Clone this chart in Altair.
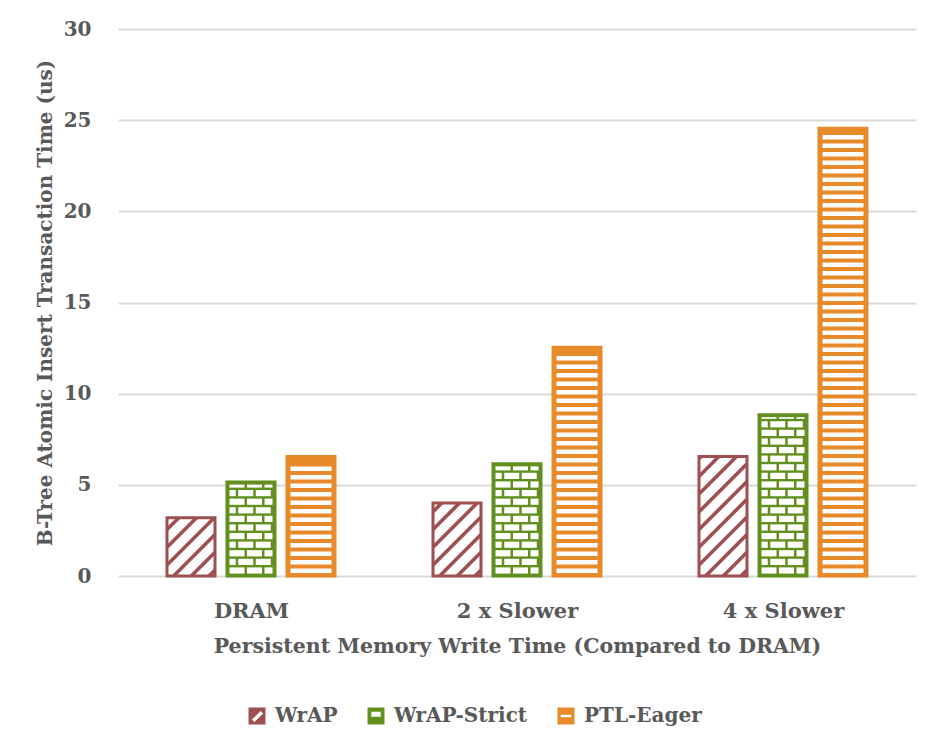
import json
import altair as alt
import pandas as pd

# ---------------- data ----------------
CATEGORIES = ["DRAM", "2 x Slower", "4 x Slower"]
SERIES = ["WrAP", "WrAP-Strict", "PTL-Eager"]
WRAP = [3.2, 4.0, 6.55]
WRAP_STRICT = [5.15, 6.15, 8.85]
PTL_EAGER = [6.55, 12.55, 24.55]
Y_TICKS = [0, 5, 10, 15, 20, 25, 30]

COLORS = ["#9E4F51", "#62901F", "#E8892A"]
FILLS = ["#FFFFFF", COLORS[1], COLORS[2]]
TEXT = "#595959"
GRID = "#D9D9D9"
FONT = "DejaVu Serif"

VALUES = dict(zip(SERIES, [WRAP, WRAP_STRICT, PTL_EAGER]))

# ---------------- geometry helpers (pixel styles -> data units) ----------------
W, H = 798, 547
X_DOMAIN = [-0.5, len(CATEGORIES) - 0.5]
Y_DOMAIN = [0, 30]
PX_X = W / (X_DOMAIN[1] - X_DOMAIN[0])
PX_Y = H / (Y_DOMAIN[1] - Y_DOMAIN[0])
BAR_PX = 48.0
STEP_PX = 60.0

bars, stripes, bricks, hatch = [], [], [], []
for ci, cat in enumerate(CATEGORIES):
    for si, s in enumerate(SERIES):
        v = VALUES[s][ci]
        center = ci + (si - 1) * STEP_PX / PX_X
        x0 = center - BAR_PX / 2 / PX_X
        x1 = center + BAR_PX / 2 / PX_X
        bars.append(dict(category=cat, series=s, value=v, x0=x0, x1=x1, xc=center))
        h = v * PX_Y
        if s == "PTL-Eager":
            pitch, th = 8.5, 4.4
            y = 3.0 + th / 2
            while y + th / 2 < h - 3.0:
                stripes.append(dict(series=s, x0=x0 + 3.5 / PX_X, x1=x1 - 3.5 / PX_X, y0=y / PX_Y))
                y += pitch
        elif s == "WrAP-Strict":
            inner_w = BAR_PX - 5.0
            top = h - 2.5
            pitch, mortar, bw = 8.6, 2.4, 15.0
            period = bw + 2.5
            r = 0
            while r * pitch + mortar < top - 1.0:
                ya = r * pitch + mortar
                yb = min((r + 1) * pitch, top)
                off = 0.0 if r % 2 == 0 else -period / 2
                bx = off
                while bx < inner_w:
                    a = max(bx, 0.0)
                    b = min(bx + bw, inner_w)
                    if b - a > 1.2:
                        bricks.append(dict(series=s,
                                           x0=x0 + (2.5 + a) / PX_X, x1=x0 + (2.5 + b) / PX_X,
                                           y0=ya / PX_Y, y1=yb / PX_Y))
                    bx += period
                r += 1
        else:
            pitch = 17.7
            c = -BAR_PX + 6.0
            while c < h:
                xa = max(0.0, -c)
                xb = min(BAR_PX, h - c)
                if xb - xa > 0.5:
                    hatch.append(dict(series=s,
                                      x0=x0 + xa / PX_X, x1=x0 + xb / PX_X,
                                      y0=(xa + c) / PX_Y, y1=(xb + c) / PX_Y))
                c += pitch

bars_df = pd.DataFrame(bars)
stripes_df = pd.DataFrame(stripes)
bricks_df = pd.DataFrame(bricks)
hatch_df = pd.DataFrame(hatch)

X_TITLE = "Persistent Memory Write Time (Compared to DRAM)"
Y_TITLE = "B-Tree Atomic Insert Transaction Time (us)"
label_expr = json.dumps(CATEGORIES) + "[datum.value]"
series_idx = "indexof(" + json.dumps(SERIES) + ", datum.series)"
fill_expr = json.dumps(FILLS) + "[" + series_idx + "]"
stroke_expr = json.dumps(COLORS) + "[" + series_idx + "]"


def X(field):
    return alt.X(field, scale=alt.Scale(domain=X_DOMAIN, nice=False, zero=False),
                 title=X_TITLE,
                 axis=alt.Axis(values=list(range(len(CATEGORIES))), labelExpr=label_expr,
                               grid=False, ticks=False, tickSize=0, domain=False,
                               labelFontSize=21, titleFontSize=20.5,
                               labelPadding=24, titlePadding=15))


def Y(field):
    return alt.Y(field, scale=alt.Scale(domain=Y_DOMAIN, nice=False), title=Y_TITLE,
                 axis=alt.Axis(values=Y_TICKS, grid=True, gridColor=GRID, gridWidth=2,
                               ticks=False, tickSize=0, domain=False,
                               labelFontSize=20, titleFontSize=20,
                               labelPadding=27, titlePadding=8))


# legend swatches: squares with white cut-outs (opposite winding holes)
SQ = "M-1,-1L1,-1L1,1L-1,1Z"
SHAPES = [
    SQ + "M-0.3,0.72L0.72,-0.3L0.42,-0.6L-0.6,0.42Z",
    SQ + "M-0.55,-0.5L-0.55,0.1L0.55,0.1L0.55,-0.5Z",
    SQ + "M-0.62,-0.15L-0.62,0.15L0.62,0.15L0.62,-0.15Z",
]

# drawn first, hidden behind the bars; it only provides the legend
legend_layer = alt.Chart(bars_df).transform_calculate(mid="datum.value / 2").mark_point(
    filled=True, size=100, opacity=1).encode(
    x=X("xc:Q"),
    y=Y("mid:Q"),
    color=alt.Color("series:N", scale=alt.Scale(domain=SERIES, range=COLORS),
                    legend=alt.Legend(title=None, orient="none", legendX=129, legendY=677,
                                      direction="horizontal", symbolOpacity=1,
                                      symbolSize=289, symbolStrokeWidth=0,
                                      labelFont=FONT, labelFontSize=20, labelFontWeight="bold",
                                      labelColor=TEXT, labelOffset=8, columnPadding=28)),
    shape=alt.Shape("series:N", scale=alt.Scale(domain=SERIES, range=SHAPES)),
)

base_bars = alt.Chart(bars_df).transform_calculate(fillc=fill_expr).mark_rect(strokeWidth=0).encode(
    x=X("x0:Q"), x2="x1:Q",
    y=Y("value:Q"), y2=alt.datum(0),
    fill=alt.Fill("fillc:N", scale=None),
)

stripe_layer = alt.Chart(stripes_df).mark_rule(color="#FFFFFF", strokeWidth=4.4, strokeCap="butt").encode(
    x=X("x0:Q"), x2="x1:Q", y=Y("y0:Q"),
)

brick_layer = alt.Chart(bricks_df).mark_rect(color="#FFFFFF", strokeWidth=0).encode(
    x=X("x0:Q"), x2="x1:Q", y=Y("y0:Q"), y2="y1:Q",
)

hatch_layer = alt.Chart(hatch_df).mark_rule(color=COLORS[0], strokeWidth=3.6, strokeCap="butt").encode(
    x=X("x0:Q"), x2="x1:Q", y=Y("y0:Q"), y2="y1:Q",
)

outline = alt.Chart(bars_df).transform_calculate(strokec=stroke_expr).mark_rect(
    fillOpacity=0, strokeWidth=3, strokeJoin="miter").encode(
    x=X("x0:Q"), x2="x1:Q",
    y=Y("value:Q"), y2=alt.datum(0),
    stroke=alt.Stroke("strokec:N", scale=None),
)

chart = alt.layer(legend_layer, base_bars, stripe_layer, brick_layer, hatch_layer, outline).properties(
    width=W, height=H,
    padding={"left": 110, "top": 21, "right": 13, "bottom": 160},
    autosize=alt.AutoSizeParams(type="none"),
    background="white",
).configure_view(stroke=None).configure_axis(
    labelFont=FONT, titleFont=FONT,
    labelFontWeight="bold", titleFontWeight="bold",
    labelColor=TEXT, titleColor=TEXT,
)

chart.save("out.html", embed_options={"renderer": "svg", "actions": False})
